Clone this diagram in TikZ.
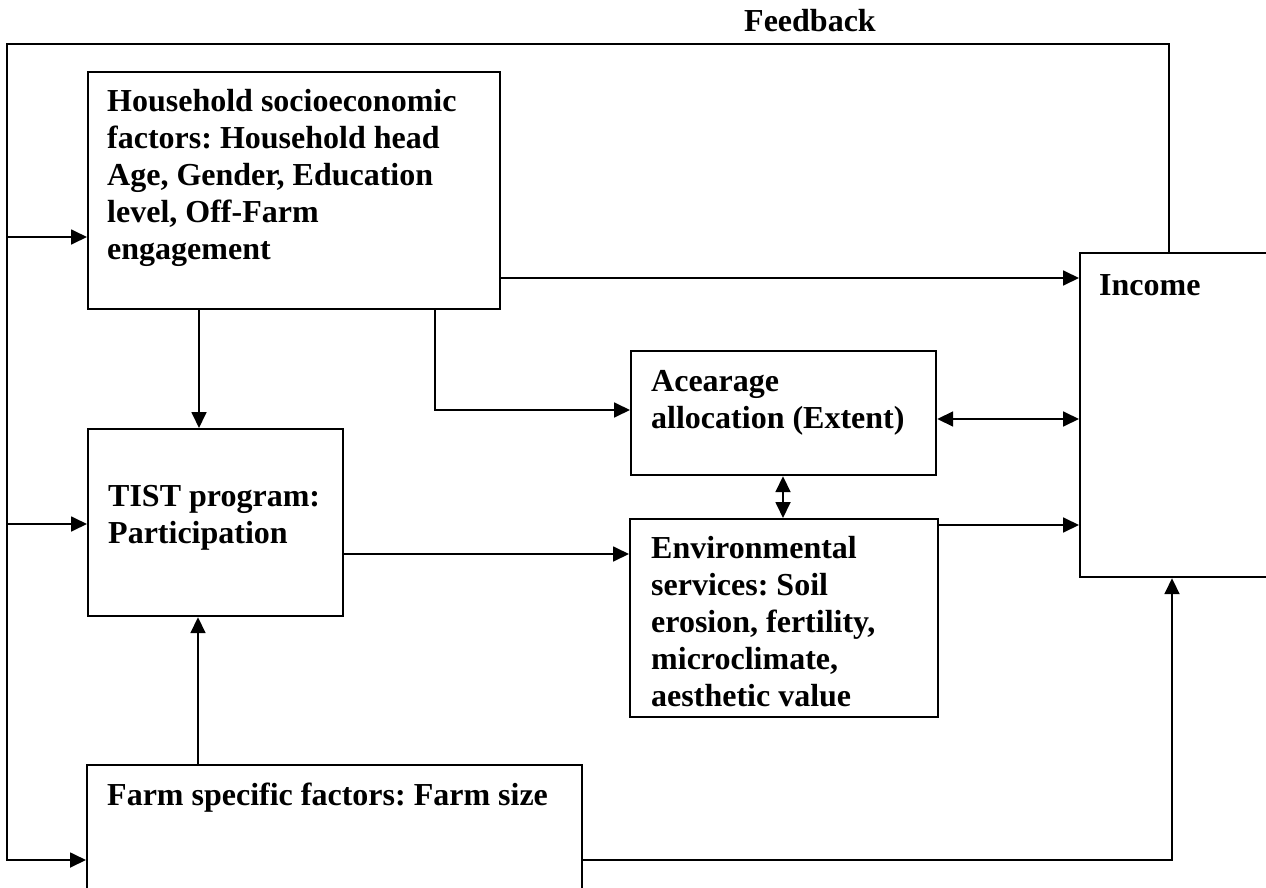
\documentclass[tikz,border=0pt]{standalone}
\usepackage{fontspec}
\setmainfont{Liberation Serif}
\usetikzlibrary{arrows.meta}
\frenchspacing
\begin{document}
\begin{tikzpicture}[x=1pt,y=-1pt,
  box/.style={draw,line width=2.2pt,anchor=north west,inner sep=0pt},
  txt/.style={anchor=base west,align=left,inner sep=0pt,font=\fontsize{32}{37}\selectfont\bfseries},
  conn/.style={line width=1.8pt},
  tip/.tip={Triangle[length=16pt,width=15pt]},
  arr/.style={conn,-tip},
  darr/.style={conn,tip-tip}]
\useasboundingbox[fill=white] (0,0) rectangle (1266,888);
\clip (0,0) rectangle (1266,888);
% boxes
\node[box,minimum width=412pt,minimum height=237pt] (hh) at (87,71) {};
\node[box,minimum width=211pt,minimum height=324pt] (inc) at (1079,252) {};
\node[box,minimum width=305pt,minimum height=124pt] (acr) at (630,350) {};
\node[box,minimum width=308pt,minimum height=198pt] (env) at (629,518) {};
\node[box,minimum width=255pt,minimum height=187pt] (tist) at (87,428) {};
\node[box,minimum width=495pt,minimum height=160pt] (farm) at (86,764) {};
% texts (anchored at the baseline of their last line)
\node[txt] (fbl) at (744,32) {Feedback};
\node[txt] (hht) at (107,259) {Household socioeconomic\\factors: Household head\\Age, Gender, Education\\level, Off-Farm\\engagement};
\node[txt] (inct) at (1099,295) {Income};
\node[txt] (acrt) at (651,428) {Acearage\\allocation (Extent)};
\node[txt] (envt) at (651,706) {Environmental\\services: Soil\\erosion, fertility,\\microclimate,\\aesthetic value};
\node[txt] (tistt) at (108,543) {TIST program:\\Participation};
\node[txt] (farmt) at (107,805) {Farm specific factors: Farm size};
% feedback loop
\coordinate (fbR) at (1169,44);
\coordinate (fbL) at (7,44);
\coordinate (fbB) at (7,860);
\coordinate (fb1) at (7,237);
\coordinate (fb2) at (7,524);
\draw[arr] (inc.north -| fbR) -- (fbR) -- (fbL) -- (fbB) -- (farm.west |- fbB);
\draw[arr] (fb1) -- (hh.west |- fb1);
\draw[arr] (fb2) -- (tist.west |- fb2);
% other connectors
\coordinate (y1) at (0,278);
\draw[arr] (hh.east |- y1) -- (inc.west |- y1);
\coordinate (c1) at (435,410);
\draw[arr] (hh.south -| c1) -- (c1) -- (acr.west |- c1);
\coordinate (x1) at (199,0);
\draw[arr] (hh.south -| x1) -- (tist.north -| x1);
\coordinate (y2) at (0,419);
\draw[darr] (acr.east |- y2) -- (inc.west |- y2);
\coordinate (x2) at (783,0);
\draw[darr] (acr.south -| x2) -- (env.north -| x2);
\coordinate (y3) at (0,554);
\draw[arr] (tist.east |- y3) -- (env.west |- y3);
\coordinate (y4) at (0,525);
\draw[arr] (env.east |- y4) -- (inc.west |- y4);
\coordinate (x3) at (198,0);
\draw[arr] (farm.north -| x3) -- (tist.south -| x3);
\coordinate (c2) at (1172,860);
\draw[arr] (farm.east |- c2) -- (c2) -- (inc.south -| c2);
\end{tikzpicture}
\end{document}
